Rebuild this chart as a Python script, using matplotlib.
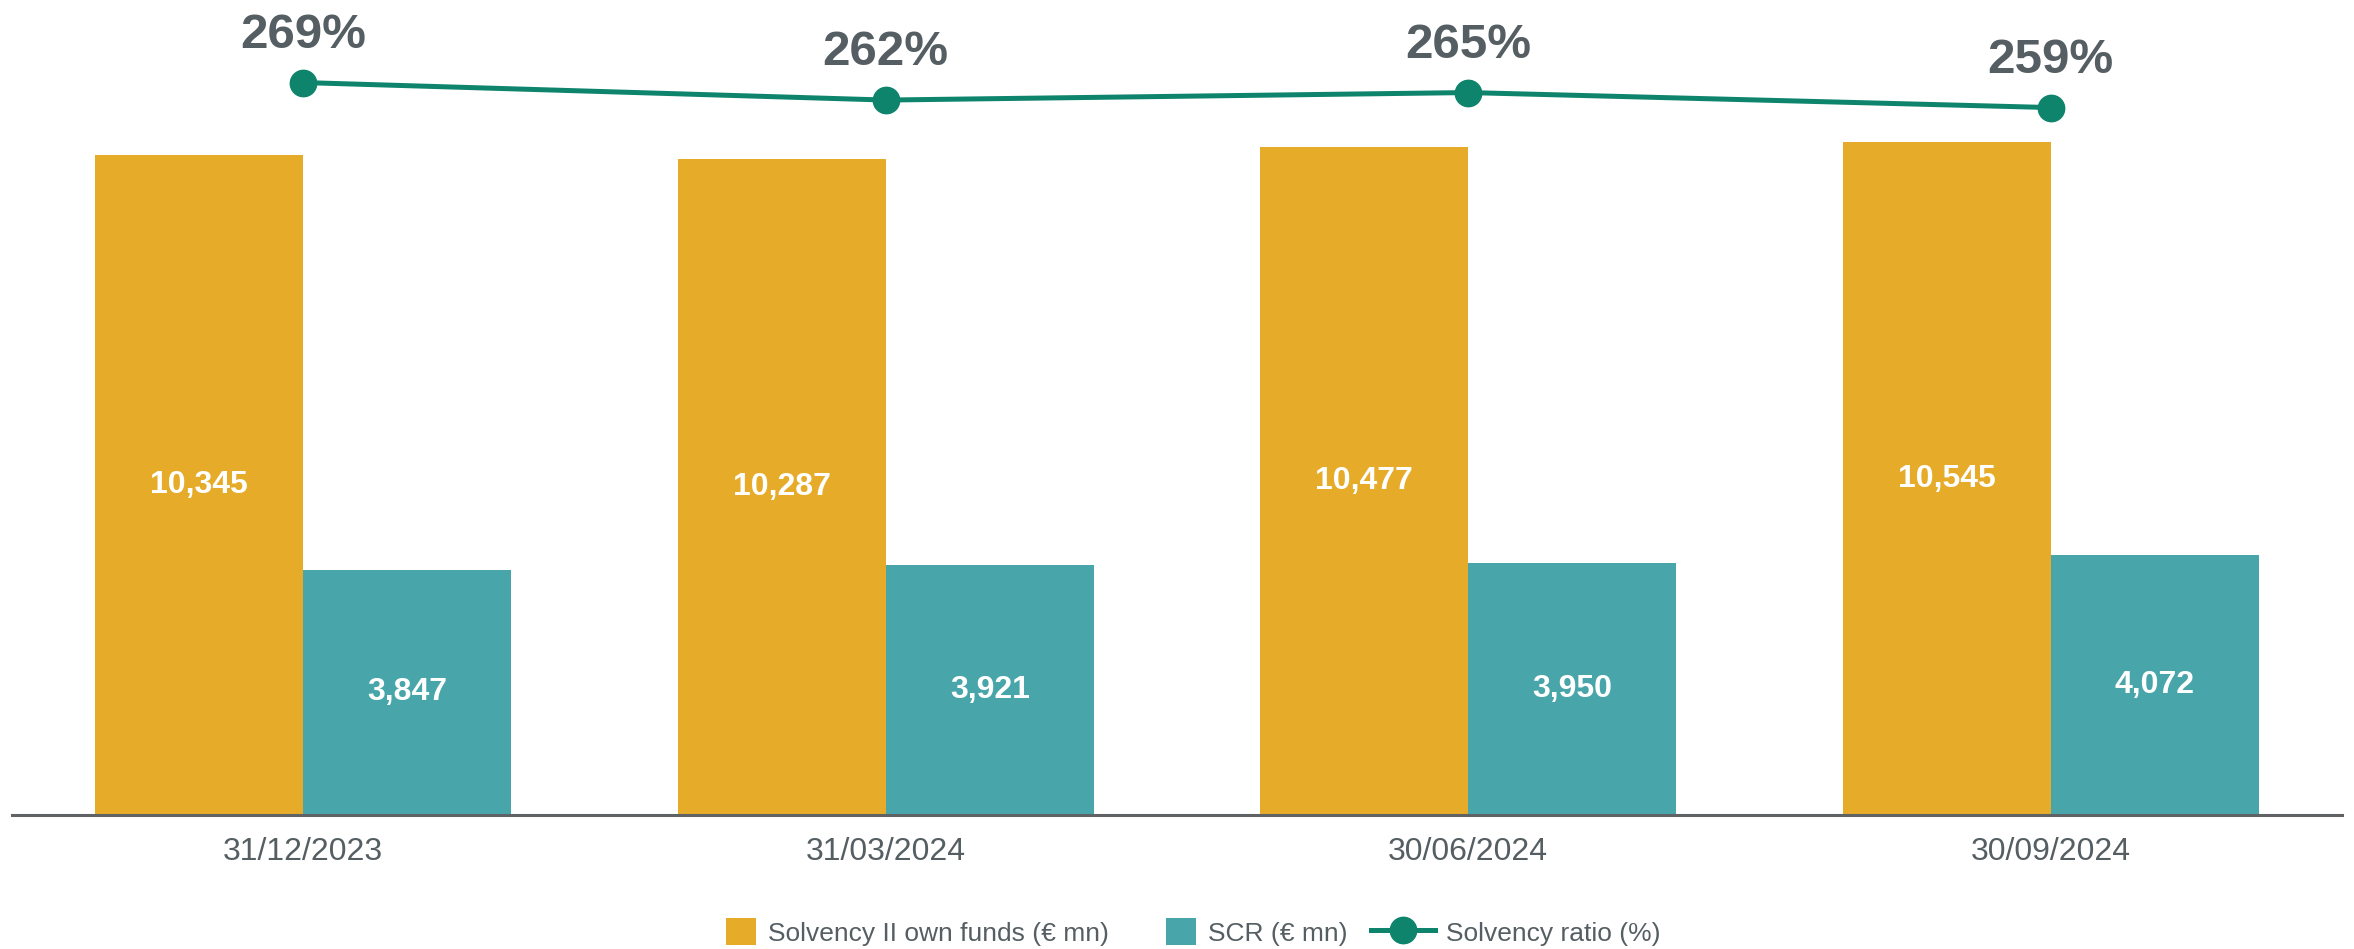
import numpy as np
import matplotlib.pyplot as plt
from matplotlib.patches import Rectangle
from matplotlib.container import BarContainer
from matplotlib.legend_handler import HandlerPatch

plt.rcParams['font.family'] = ['Liberation Sans', 'DejaVu Sans']

dates = ['31/12/2023', '31/03/2024', '30/06/2024', '30/09/2024']
own_funds = [10345, 10287, 10477, 10545]
scr = [3847, 3921, 3950, 4072]
ratio = [269, 262, 265, 259]

c_orange = '#E6AB28'
c_teal = '#48A6AA'
c_green = '#0E846C'
c_text = '#555E62'
c_axis = '#5F6366'

fig = plt.figure(figsize=(23.54, 9.49), dpi=100)
ax = fig.add_axes([12/2354, 134/949, 2330/2354, 815/949])

x = np.arange(len(dates))
w = 0.357
b1 = ax.bar(x - w/2, own_funds, w, color=c_orange, label='Solvency II own funds (€ mn)')
b2 = ax.bar(x + w/2, scr, w, color=c_teal, label='SCR (€ mn)')

for bars, vals in ((b1, own_funds), (b2, scr)):
    for r, v in zip(bars, vals):
        ax.text(r.get_x() + r.get_width()/2, v/2, f'{v:,}', ha='center', va='center',
                color='white', fontsize=23, fontweight='bold')

ax.set_xlim(-0.5, 3.5)
ax.set_ylim(0, 12774)
ax.set_yticks([])
ax.set_xticks(x)
ax.set_xticklabels(dates, fontsize=23, color=c_text)
ax.tick_params(axis='x', length=0, pad=16)
for s in ['top', 'right', 'left']:
    ax.spines[s].set_visible(False)
ax.spines['bottom'].set_color(c_axis)
ax.spines['bottom'].set_linewidth(2.2)

ax2 = ax.twinx()
ax2.set_ylim(-23.8, 302)
ax2.axis('off')
ln, = ax2.plot(x, ratio, color=c_green, lw=3.6, marker='o', ms=19, label='Solvency ratio (%)')
for xi, r in zip(x, ratio):
    ax2.annotate(f'{r}%', (xi, r), xytext=(0, 25), textcoords='offset points',
                 ha='center', va='baseline', fontsize=35.5, fontweight='bold',
                 color=c_text, annotation_clip=False)


def square(legend, orig_handle, xdescent, ydescent, width, height, fontsize):
    side = height
    return Rectangle((width - side*1.15 - xdescent, -ydescent), side*1.15, side)


def first_child(legend_handle, orig_handle):
    legend_handle.update_from(orig_handle.patches[0])


leg = fig.legend(handles=[b1, b2, ln], loc='center', bbox_to_anchor=(0.5, 1 - 932/949),
                 ncol=3, frameon=False, fontsize=19, handlelength=2.4, handleheight=1.15,
                 handletextpad=0.45, columnspacing=0.9,
                 handler_map={BarContainer: HandlerPatch(patch_func=square, update_func=first_child)})
for t in leg.get_texts():
    t.set_color(c_text)

fig.savefig('out.png', dpi=100)
